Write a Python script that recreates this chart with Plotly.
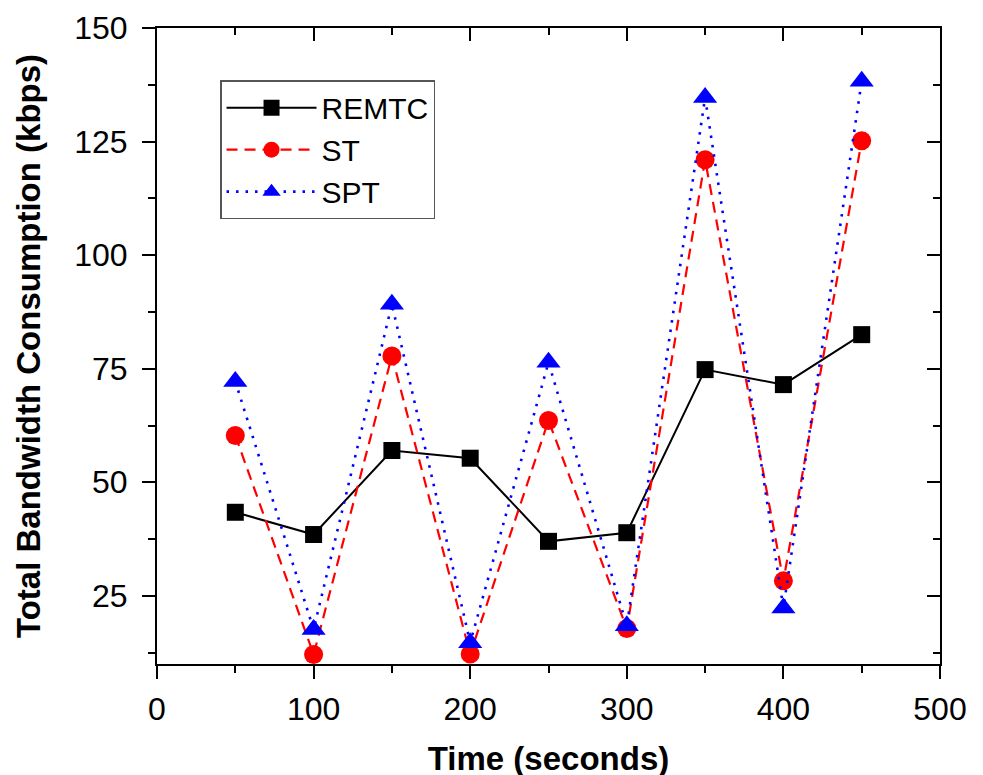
import plotly.graph_objects as go

time_s = [50, 100, 150, 200, 250, 300, 350, 400, 450]
remtc = [43.4, 38.5, 57.0, 55.3, 37.0, 38.9, 74.8, 71.5, 82.5]
st = [60.3, 12.1, 77.8, 12.2, 63.6, 17.8, 121.0, 28.3, 125.2]
spt = [72.2, 17.6, 89.2, 14.7, 76.4, 18.4, 134.7, 22.3, 138.3]

x_range = [0, 500]
y_range = [10, 150]
x_ticks = [0, 100, 200, 300, 400, 500]
y_ticks = [25, 50, 75, 100, 125, 150]

FONT = "Liberation Sans, Arial, sans-serif"

fig = go.Figure()
fig.add_trace(go.Scatter(
    x=time_s, y=remtc, name="REMTC", mode="lines+markers",
    line=dict(color="black", width=2),
    marker=dict(symbol="square", size=17, color="black"),
))
fig.add_trace(go.Scatter(
    x=time_s, y=st, name="ST", mode="lines+markers",
    line=dict(color="#FF0000", width=2.2, dash="11px,7px"),
    marker=dict(symbol="circle", size=19, color="#FF0000"),
))
fig.add_trace(go.Scatter(
    x=time_s, y=spt, name="SPT", mode="lines+markers",
    line=dict(color="#0000FF", width=2.6, dash="2.5px,7px"),
    marker=dict(symbol="triangle-up", size=21, color="#0000FF"),
))
# invisible trace to activate mirrored axes with inward ticks
fig.add_trace(go.Scatter(
    x=[x_range[0]], y=[y_range[0]], xaxis="x2", yaxis="y2",
    mode="markers", marker=dict(opacity=0), showlegend=False, hoverinfo="skip",
))

tickfont = dict(family=FONT, size=32, color="black")
titlefont = dict(family=FONT, size=33, color="black", weight="bold")

fig.update_layout(
    width=983, height=775,
    margin=dict(l=149, r=51, t=20, b=119, autoexpand=False),
    paper_bgcolor="white", plot_bgcolor="white",
    font=dict(family=FONT, color="black"),
    xaxis=dict(
        range=x_range, tickvals=x_ticks, ticks="outside", ticklen=13, tickwidth=2,
        tickcolor="black", showline=True, linewidth=2, linecolor="black",
        mirror=True, showgrid=False, zeroline=False, tickfont=tickfont,
        minor=dict(dtick=50, tick0=0, ticks="outside", ticklen=7, tickwidth=2, tickcolor="black", showgrid=False),
        title=dict(text="Time (seconds)", font=titlefont, standoff=20),
        ticklabelstandoff=3, automargin=False,
    ),
    yaxis=dict(
        range=y_range, tickvals=y_ticks, ticks="outside", ticklen=13, tickwidth=2,
        tickcolor="black", showline=True, linewidth=2, linecolor="black",
        mirror=True, showgrid=False, zeroline=False, tickfont=tickfont,
        minor=dict(dtick=12.5, tick0=0, ticks="outside", ticklen=7, tickwidth=2, tickcolor="black", showgrid=False),
        title=dict(text="Total Bandwidth Consumption (kbps)", font=titlefont, standoff=24),
        ticklabelstandoff=8, automargin=False,
    ),
    xaxis2=dict(
        range=x_range, tickvals=x_ticks, overlaying="x", side="top", anchor="y2",
        ticks="inside", ticklen=13, tickwidth=2, tickcolor="black",
        showticklabels=False, showline=False, showgrid=False, zeroline=False,
        minor=dict(dtick=50, tick0=0, ticks="inside", ticklen=7, tickwidth=2, tickcolor="black", showgrid=False),
        automargin=False,
    ),
    yaxis2=dict(
        range=y_range, tickvals=y_ticks, overlaying="y", side="right", anchor="x2",
        ticks="inside", ticklen=13, tickwidth=2, tickcolor="black",
        showticklabels=False, showline=False, showgrid=False, zeroline=False,
        minor=dict(dtick=12.5, tick0=0, ticks="inside", ticklen=7, tickwidth=2, tickcolor="black", showgrid=False),
        automargin=False,
    ),
    legend=dict(
        x=0.0805, y=0.918, xanchor="left", yanchor="top",
        bgcolor="white", bordercolor="#555555", borderwidth=1.5,
        font=dict(family=FONT, size=30, color="black"),
        itemwidth=90, tracegroupgap=0,
    ),
    showlegend=True,
)

fig.write_html("out.html")
